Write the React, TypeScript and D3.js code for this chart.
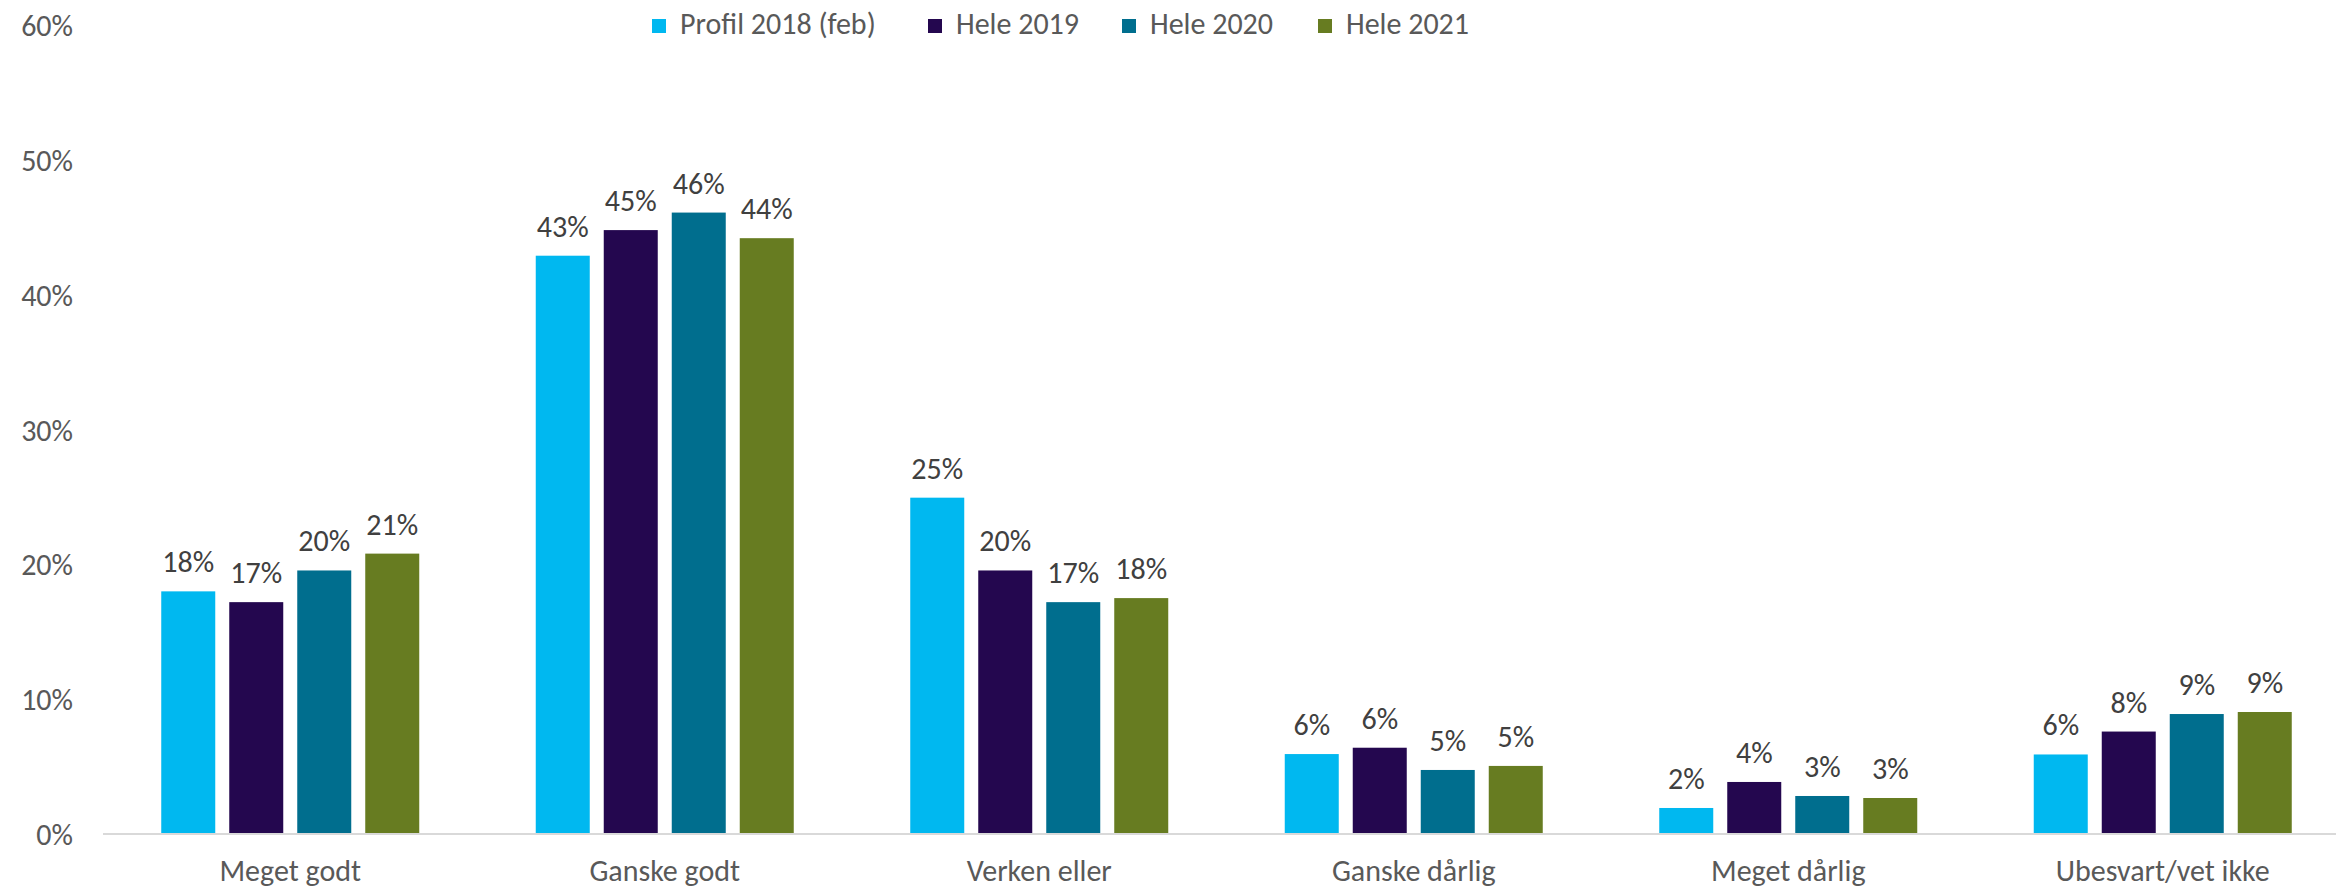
import React from "react";
import * as d3 from "d3";

const categories = ["Meget godt", "Ganske godt", "Verken eller", "Ganske dårlig", "Meget dårlig", "Ubesvart/vet ikke"];
const seriesNames = ["Profil 2018 (feb)", "Hele 2019", "Hele 2020", "Hele 2021"];
const profil2018 = [18.0, 42.9, 24.95, 5.93, 1.93, 5.9];
const hele2019 = [17.2, 44.8, 19.55, 6.4, 3.86, 7.6];
const hele2020 = [19.55, 46.1, 17.2, 4.75, 2.82, 8.9];
const hele2021 = [20.8, 44.2, 17.5, 5.05, 2.67, 9.05];
const yTicks = [0, 10, 20, 30, 40, 50, 60];

const seriesValues = [profil2018, hele2019, hele2020, hele2021];
const colors = ["#00B8F0", "#24074F", "#006E8E", "#677C21"];

const W = 2336;
const H = 894;
const FONT = "Carlito, Calibri, Lato, sans-serif";
const FS = 30;

export default function App() {
  const x0 = d3.scaleBand<string>().domain(categories).range([103, 103 + 6 * 374.5]).padding(0);
  const pi = 14 / 68;
  const x1 = d3.scaleBand<string>().domain(seriesNames).range([-136, 136]).paddingInner(pi).paddingOuter(pi / 2);
  const y = d3.scaleLinear().domain([0, 60]).range([834, 25.2]);
  const fmt = d3.format(".0%");

  const legendX = [652, 928, 1122, 1318];

  return (
    <svg width={W} height={H} style={{ position: "absolute", left: 0, top: 0, background: "#fff" }} fontFamily={FONT}>
      <rect x={0} y={0} width={W} height={H} fill="#fff" />
      {yTicks.map((t) => (
        <text key={t} x={73} y={y(t) + 11} textAnchor="end" fontSize={FS} fill="#595959">
          {fmt(t / 100)}
        </text>
      ))}
      {categories.map((c, ci) => {
        const cx = (x0(c) as number) + x0.bandwidth() / 2;
        return (
          <g key={c}>
            {seriesNames.map((s, si) => {
              const v = seriesValues[si][ci];
              const bx = cx + (x1(s) as number);
              return (
                <g key={s}>
                  <rect x={bx} y={y(v)} width={x1.bandwidth()} height={y(0) - y(v)} fill={colors[si]} />
                  <text x={bx + x1.bandwidth() / 2} y={y(v) - 19} textAnchor="middle" fontSize={FS} fill="#404040">
                    {fmt(Math.round(v) / 100)}
                  </text>
                </g>
              );
            })}
            <text x={cx} y={881} textAnchor="middle" fontSize={FS} fill="#595959">
              {c}
            </text>
          </g>
        );
      })}
      <line x1={103} x2={W} y1={y(0)} y2={y(0)} stroke="#D9D9D9" strokeWidth={2} />
      {seriesNames.map((s, i) => (
        <g key={s}>
          <rect x={legendX[i]} y={19} width={14} height={14} fill={colors[i]} />
          <text x={legendX[i] + 28} y={34} fontSize={FS} fill="#595959">
            {s}
          </text>
        </g>
      ))}
    </svg>
  );
}
